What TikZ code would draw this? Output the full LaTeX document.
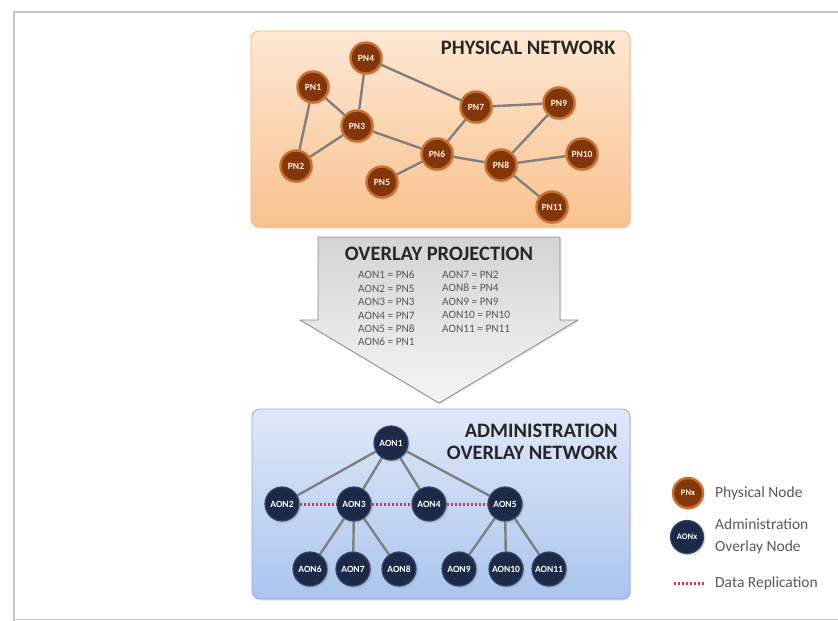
\documentclass[tikz,border=0pt]{standalone}
\usepackage{fontspec}
\setmainfont{Carlito}
\usetikzlibrary{shadows}
\pgfdeclarelayer{panels}
\pgfdeclarelayer{links}
\pgfsetlayers{panels,links,main}
\definecolor{pnbrown}{HTML}{833609}
\definecolor{pnring}{HTML}{C8702E}
\definecolor{aonnavy}{HTML}{1D2A47}
\definecolor{aonring}{HTML}{33456B}
\definecolor{linkgray}{HTML}{808080}
\definecolor{replred}{HTML}{D03A4C}
\definecolor{textgray}{HTML}{595959}
\definecolor{pntop}{HTML}{FDE7D3}
\definecolor{pnbottom}{HTML}{F9C28E}
\definecolor{aontop}{HTML}{DFE8F7}
\definecolor{aonbottom}{HTML}{ABC5EF}
\tikzset{
  pnnode/.style={circle, minimum size=31pt, inner sep=0pt, fill=pnbrown, draw=pnring,
    line width=2.4pt, text=white!90!orange, font=\bfseries\fontsize{9.5}{10}\selectfont,
    circular drop shadow={shadow xshift=0.8pt, shadow yshift=-0.8pt, opacity=0.35}},
  aonnode/.style={circle, minimum size=34pt, inner sep=0pt, fill=aonnavy, draw=aonring,
    line width=1.2pt, text=white, font=\bfseries\fontsize{9.5}{10}\selectfont,
    circular drop shadow={shadow xshift=0.8pt, shadow yshift=-0.8pt, opacity=0.35}},
  link/.style={draw=linkgray, line width=2.4pt},
  repl/.style={draw=replred, line width=3pt, dash pattern=on 2pt off 2pt},
  boxtitle/.style={font=\bfseries\fontsize{20.5}{22}\selectfont, text=black!85, align=right},
  maptext/.style={font=\fontsize{11.3}{13.4}\selectfont, text=textgray, align=left, anchor=north west, inner sep=0pt},
  legendtext/.style={font=\fontsize{15.5}{22}\selectfont, text=textgray, align=left, anchor=west, inner sep=0pt},
}
\begin{document}
\begin{tikzpicture}[x=1pt, y=-1pt]
\useasboundingbox (0,0) rectangle (838,621);

\begin{pgfonlayer}{panels}
\fill[white] (0,0) rectangle (838,621);
% page frame
\draw[black!22, line width=1.2pt] (14,621) -- (14,12) -- (838,12);
\draw[black!22, line width=1pt] (14,619) -- (838,619);
% physical network panel
\shade[rounded corners=8pt, top color=pntop, bottom color=pnbottom, draw=pnbottom!80!orange, line width=0.8pt,
  drop shadow={shadow xshift=1pt, shadow yshift=-1.5pt, opacity=0.25}]
  (251,31) rectangle (630,227);
% administration overlay panel
\shade[rounded corners=8pt, top color=aontop, bottom color=aonbottom, draw=aonbottom!85!blue, line width=0.8pt,
  drop shadow={shadow xshift=1pt, shadow yshift=-1.5pt, opacity=0.25}]
  (252,409) rectangle (630,599);
% projection arrow
\shade[top color=black!17, bottom color=black!4, draw=black!45, line width=0.8pt,
  drop shadow={shadow xshift=1pt, shadow yshift=-1.5pt, opacity=0.2}]
  (318,237) -- (560,237) -- (560,320) -- (578,320) -- (439,403) -- (300,320) -- (318,320) -- cycle;
\end{pgfonlayer}

\node[boxtitle, anchor=east] (pntitle) at (619,48) {PHYSICAL NETWORK};

\node[pnnode] (pn1) at (313,87) {PN1};
\node[pnnode] (pn2) at (296,166) {PN2};
\node[pnnode] (pn3) at (357,126) {PN3};
\node[pnnode] (pn4) at (366,58) {PN4};
\node[pnnode] (pn5) at (382,182) {PN5};
\node[pnnode] (pn6) at (437,154) {PN6};
\node[pnnode] (pn7) at (476,107) {PN7};
\node[pnnode] (pn8) at (501,165) {PN8};
\node[pnnode] (pn9) at (559,103) {PN9};
\node[pnnode] (pn10) at (582,154) {PN10};
\node[pnnode] (pn11) at (552,207) {PN11};

\node[font=\bfseries\fontsize{20.5}{22}\selectfont, text=black!85] (projtitle) at (439,254) {OVERLAY PROJECTION};
\node[maptext] (mapleft) at (358,271) {AON1 = PN6\\AON2 = PN5\\AON3 = PN3\\AON4 = PN7\\AON5 = PN8\\AON6 = PN1};
\node[maptext] (mapright) at (442,271) {AON7 = PN2\\AON8 = PN4\\AON9 = PN9\\AON10 = PN10\\AON11 = PN11};

\node[boxtitle, anchor=north east] (aontitle) at (621,421) {ADMINISTRATION\\OVERLAY NETWORK};

\node[aonnode] (aon1) at (391,443) {AON1};
\node[aonnode] (aon2) at (282,504) {AON2};
\node[aonnode] (aon3) at (354,504) {AON3};
\node[aonnode] (aon4) at (429,504) {AON4};
\node[aonnode] (aon5) at (505,504) {AON5};
\node[aonnode] (aon6) at (310,569) {AON6};
\node[aonnode] (aon7) at (353,569) {AON7};
\node[aonnode] (aon8) at (399,569) {AON8};
\node[aonnode] (aon9) at (459,569) {AON9};
\node[aonnode] (aon10) at (506,569) {AON10};
\node[aonnode] (aon11) at (549,569) {AON11};

% legend
\node[pnnode, minimum size=30pt, font=\bfseries\fontsize{8.5}{9}\selectfont] (legpn) at (688,493) {PNx};
\node[legendtext] (legpntext) at (715,493) {Physical Node};
\node[aonnode, minimum size=33pt, font=\bfseries\fontsize{8.5}{9}\selectfont] (legaon) at (687,537) {AONx};
\node[legendtext] (legaontext) at (715,536) {Administration\\Overlay Node};
\coordinate (legrepla) at (674,583);
\coordinate (legreplb) at (704,583);
\node[legendtext] (legrepltext) at (715,583) {Data Replication};

% connectors, drawn beneath the nodes
\begin{pgfonlayer}{links}
\path[link] (pn1) -- (pn3) (pn1) -- (pn2) (pn2) -- (pn3) (pn4) -- (pn3)
  (pn4) -- (pn7) (pn3) -- (pn6) (pn7) -- (pn6) (pn7) -- (pn9)
  (pn6) -- (pn5) (pn6) -- (pn8) (pn8) -- (pn9) (pn8) -- (pn10) (pn8) -- (pn11);
\path[link] (aon1) -- (aon2) (aon1) -- (aon3) (aon1) -- (aon4) (aon1) -- (aon5)
  (aon3) -- (aon6) (aon3) -- (aon7) (aon3) -- (aon8)
  (aon5) -- (aon9) (aon5) -- (aon10) (aon5) -- (aon11);
\path[repl] (aon2) -- (aon3) (aon3) -- (aon4) (aon4) -- (aon5);
\path[repl] (legrepla) -- (legreplb);
\end{pgfonlayer}
\end{tikzpicture}
\end{document}
